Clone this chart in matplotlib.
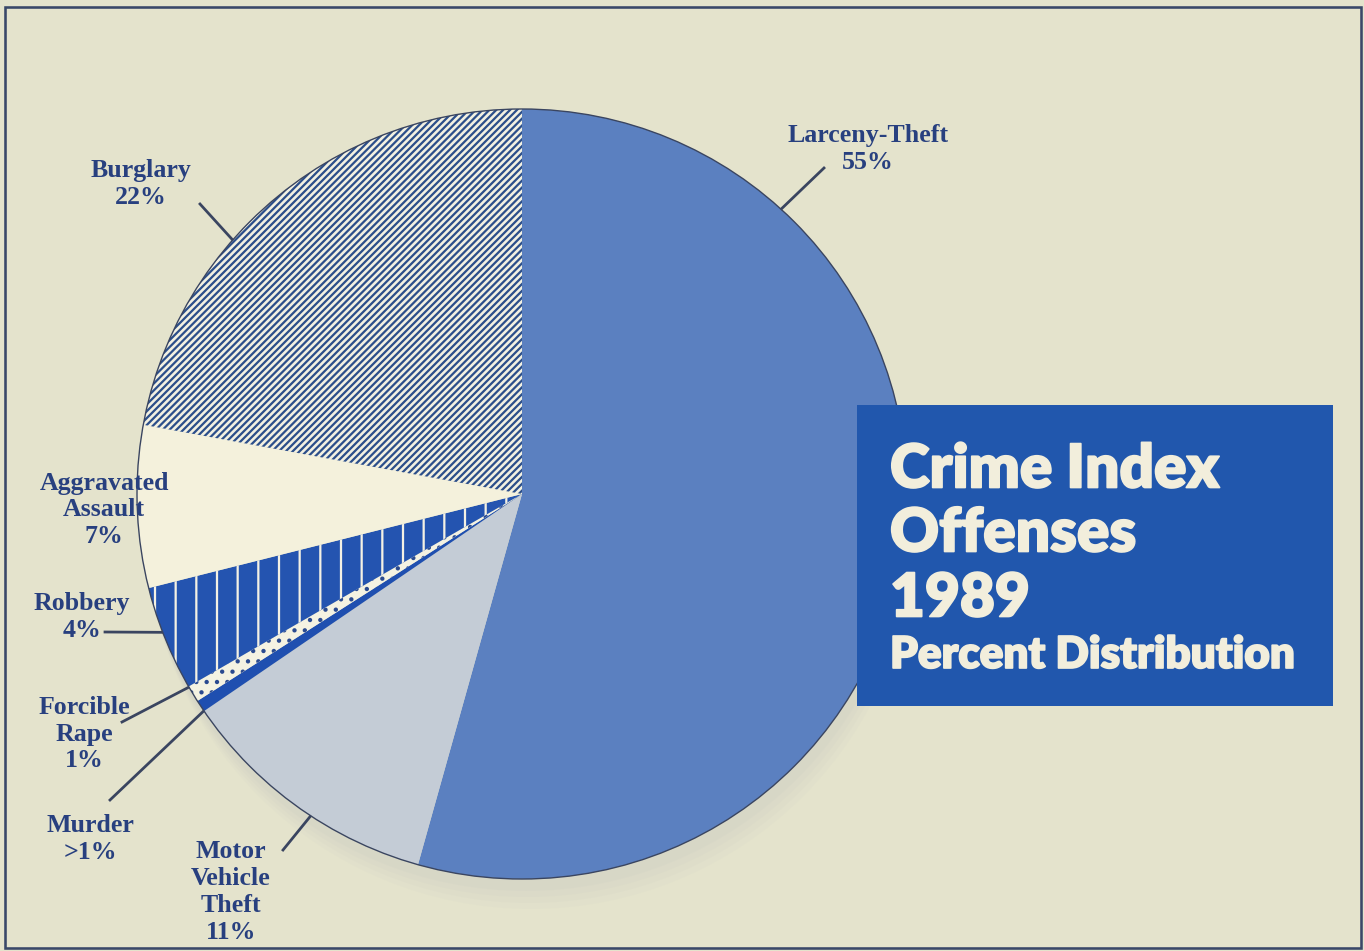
import matplotlib
matplotlib.use('Agg')
import matplotlib.pyplot as plt
import matplotlib.patches as patches
import matplotlib.patheffects as pe
import numpy as np

# Data (percent distribution, clockwise from 12 o'clock)
offenses = ['Larceny-Theft', 'Motor Vehicle Theft', 'Murder', 'Forcible Rape',
            'Robbery', 'Aggravated Assault', 'Burglary']
shares = [54.3, 11.1, 0.5, 0.7, 4.4, 6.8, 22.1]
label_texts = ['Larceny-Theft\n55%', 'Motor\nVehicle\nTheft\n11%', 'Murder\n>1%',
               'Forcible\nRape\n1%', 'Robbery\n4%', 'Aggravated\nAssault\n7%',
               'Burglary\n22%']

# Styling
bg = '#e4e3cc'
navy = '#28407f'
line_col = '#3a4560'
face_colors = ['#5b80c0', '#c4ccd6', '#1f4fb0', '#f4f2e2', '#2454b0', '#f4f1dc', '#f3f1e2']
hatch_colors = ['#5b80c0', '#c4ccd6', '#1f4fb0', '#2a4a90', '#f4f1e4', '#f4f1dc', '#2c4f8a']
hatches = [None, None, None, '..', '|', None, '//////']

W, H, DPI = 1364, 951, 124
plt.rcParams['hatch.linewidth'] = 1.3

fig = plt.figure(figsize=(W / DPI, H / DPI), dpi=DPI, facecolor=bg)
ax = fig.add_axes([0, 0, 1, 1])
ax.set_facecolor(bg)

cx, cy, R = 522, 457, 385

# soft shadow under the pie
for off, a in [(30, 0.12), (24, 0.16), (18, 0.2), (12, 0.25)]:
    ax.add_patch(patches.Circle((cx + off * 0.3, cy - off), R, facecolor='#cfd1c4',
                                edgecolor='none', alpha=a, zorder=1))

wedges, _ = ax.pie(shares, center=(cx, cy), radius=R, startangle=90, counterclock=False,
                   colors=face_colors, wedgeprops=dict(linewidth=0, zorder=2))
for w, hc, h in zip(wedges, hatch_colors, hatches):
    w.set_zorder(2)
    if h:
        w.set_hatch(h)
        w.set_edgecolor(hc)
        w.set_linewidth(0)

ax.add_patch(patches.Circle((cx, cy), R, fill=False, edgecolor=line_col, linewidth=0.8, zorder=3))

# Labels: (x, y) of text block, leader start angle on rim, leader outer end
label_pos = [(868, 802), (231, 59), (90, 112), (84, 217), (82, 334), (104, 441), (141, 767)]
leader_angle = [47.7, 236.7, 214.3, 210.1, 201.0, None, 138.7]
leader_end = [(824, 783), (283, 101), (110, 151), (122, 229), (105, 319), None, (200, 747)]

for txt, (lx, ly), ang, end in zip(label_texts, label_pos, leader_angle, leader_end):
    ax.text(lx, ly, txt, ha='center', va='center', multialignment='center',
            fontsize=15, fontweight='bold', family='Liberation Serif', color=navy,
            linespacing=1.22, zorder=5)
    if ang is not None:
        t = np.deg2rad(ang)
        px, py = cx + (R + 1) * np.cos(t), cy + (R + 1) * np.sin(t)
        ax.plot([px, end[0]], [py, end[1]], color=line_col, linewidth=1.6, zorder=4)

# Title box
ax.add_patch(patches.Rectangle((857, 245), 476, 301, facecolor='#2157ad',
                               edgecolor='none', zorder=6))
title_col = '#f2eedc'
heavy = [pe.withStroke(linewidth=1.0, foreground=title_col)]
title_lines = ['Crime Index', 'Offenses', '1989']
title_y = [481, 417, 352]
for s, y in zip(title_lines, title_y):
    ax.text(890, y, s, ha='left', va='center', fontsize=35, fontweight='heavy',
            family='Lato', color=title_col, zorder=7, path_effects=heavy)
ax.text(890, 296, 'Percent Distribution', ha='left', va='center', fontsize=25.5,
        fontweight='heavy', family='Lato', color=title_col, zorder=7, path_effects=heavy)

# frame
ax.add_patch(patches.Rectangle((5, 3), 1356, 941, fill=False, edgecolor='#394868',
                               linewidth=1.5, zorder=8))

ax.set_xlim(0, W)
ax.set_ylim(0, H)
ax.set_aspect('equal')
ax.axis('off')

fig.savefig('out.png', dpi=DPI, facecolor=bg)
